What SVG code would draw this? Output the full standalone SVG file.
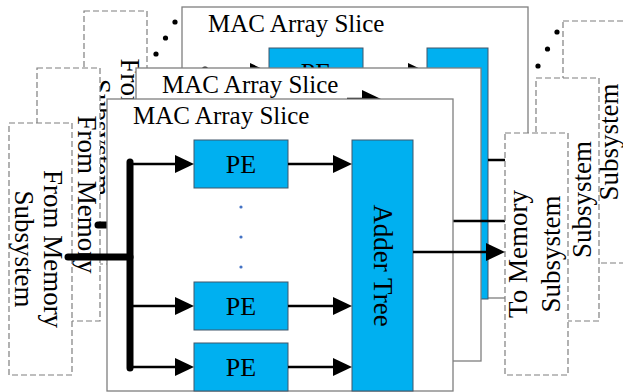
<svg xmlns="http://www.w3.org/2000/svg" width="623" height="392" viewBox="0 0 623 392">
<style>
.slice{fill:#fff;stroke:#7f7f7f;stroke-width:1.3}
.mem{fill:#fff;stroke:#7f7f7f;stroke-width:1.2;stroke-dasharray:6 3}
.blk{fill:#00b0f0;stroke:#41566b;stroke-width:1}
.t{font-family:"Liberation Serif","Times New Roman",serif;fill:#000}
.title{font-size:25px}
.pe{font-size:26px;text-anchor:middle}
.side{font-size:27px;text-anchor:middle}
.ln{stroke:#000;stroke-width:2.5;fill:none}
.bus{stroke:#000;stroke-width:7;stroke-linecap:round;fill:none}
.dot{fill:#000}
.bdot{fill:#4472c4}
</style>
<defs>
<marker id="ah" markerUnits="userSpaceOnUse" viewBox="0 -9 19 18" markerWidth="19" markerHeight="18" refX="0" refY="0" orient="auto" overflow="visible"><path d="M0,-9 L19,0 L0,9 Z" fill="#000"/></marker>
</defs>

<g id="from-mem-back">
<rect class="mem" x="84" y="11" width="63" height="253"/>
<text class="t side" transform="translate(121,137.5) rotate(90)"><tspan x="0" y="0">From Memory</tspan><tspan x="0" y="29">Subsystem</tspan></text>
</g>
<g id="to-mem-back">
<rect class="mem" x="563" y="21" width="63" height="242"/>
<text class="t side" transform="translate(585,142) rotate(-90)"><tspan x="0" y="0">To Memory</tspan><tspan x="0" y="33">Subsystem</tspan></text>
</g>
<g id="ellipsis">
<circle class="dot" cx="156" cy="54" r="2.6"/><circle class="dot" cx="165.5" cy="38" r="2.6"/><circle class="dot" cx="175" cy="22" r="2.6"/>
<circle class="dot" cx="538" cy="66" r="2.6"/><circle class="dot" cx="547.5" cy="49" r="2.6"/><circle class="dot" cx="557" cy="32" r="2.6"/>
</g>

<g id="slice-back">
<rect class="slice" x="182" y="7" width="346" height="291"/>
<g transform="translate(75,-92)">
<text class="t title" x="133" y="124">MAC Array Slice</text>
<g id="pe-back-1"><rect class="blk" x="194" y="140" width="94" height="48"/><text class="t pe" x="241" y="173">PE</text></g>
<g id="adder-back"><rect class="blk" x="352" y="140" width="61" height="251"/></g>
<g id="conn-back">
<path class="bus" d="M130,162 V368"/>
<path class="ln" d="M130,164 H175" marker-end="url(#ah)"/>
<path class="ln" d="M288,164 H333" marker-end="url(#ah)"/>
<path class="ln" d="M413,252 H488"/>
</g>
</g>
</g>

<g id="from-mem-mid">
<rect class="mem" x="37" y="68" width="63" height="253"/>
<text class="t side" transform="translate(78,194.5) rotate(90)"><tspan x="0" y="0">From Memory</tspan><tspan x="0" y="29">Subsystem</tspan></text>
</g>
<g id="to-mem-mid">
<rect class="mem" x="536" y="78" width="63" height="243"/>
<text class="t side" transform="translate(558,199.5) rotate(-90)"><tspan x="0" y="0">To Memory</tspan><tspan x="0" y="33">Subsystem</tspan></text>
</g>

<g id="slice-mid">
<rect class="slice" x="136" y="68" width="345" height="293"/>
<g transform="translate(29,-31)">
<text class="t title" x="133" y="124">MAC Array Slice</text>
<g id="conn-mid">
<path class="bus" d="M69,256 H130"/>
<path class="ln" d="M318,130 H333" marker-end="url(#ah)"/>
<path class="ln" d="M413,252 H476"/>
</g>
</g>
</g>

<g id="from-mem-front">
<rect class="mem" x="9" y="123" width="63" height="252"/>
<text class="t side" transform="translate(44,249) rotate(90)"><tspan x="0" y="0">From Memory</tspan><tspan x="0" y="29">Subsystem</tspan></text>
</g>
<g id="to-mem-front">
<rect class="mem" x="505" y="133" width="63" height="242"/>
<text class="t side" transform="translate(527,254) rotate(-90)"><tspan x="0" y="0">To Memory</tspan><tspan x="0" y="33">Subsystem</tspan></text>
</g>

<g id="slice-front">
<rect class="slice" x="107" y="99" width="346" height="292"/>
<text class="t title" x="133" y="124">MAC Array Slice</text>
<g id="pe-1"><rect class="blk" x="194" y="140" width="94" height="48"/><text class="t pe" x="241" y="173">PE</text></g>
<g id="pe-2"><rect class="blk" x="194" y="282" width="94" height="48"/><text class="t pe" x="241" y="315">PE</text></g>
<g id="pe-3"><rect class="blk" x="194" y="343" width="94" height="48"/><text class="t pe" x="241" y="376">PE</text></g>
<g id="adder-tree"><rect class="blk" x="352" y="140" width="61" height="251"/><text class="t side" transform="translate(374,265.5) rotate(90)">Adder Tree</text></g>
<g id="pe-ellipsis"><circle class="bdot" cx="241" cy="207" r="1.6"/><circle class="bdot" cx="241" cy="237" r="1.6"/><circle class="bdot" cx="241" cy="267" r="1.6"/></g>
</g>

<g id="connectors">
<path class="bus" d="M130,162 V368"/>
<path class="bus" d="M68,257 H130"/>
<path class="ln" d="M130,164 H175" marker-end="url(#ah)"/>
<path class="ln" d="M130,306 H175" marker-end="url(#ah)"/>
<path class="ln" d="M130,367 H175" marker-end="url(#ah)"/>
<path class="ln" d="M288,164 H333" marker-end="url(#ah)"/>
<path class="ln" d="M288,306 H333" marker-end="url(#ah)"/>
<path class="ln" d="M288,367 H333" marker-end="url(#ah)"/>
<path class="ln" d="M413,252 H486" marker-end="url(#ah)"/>
</g>
</svg>
